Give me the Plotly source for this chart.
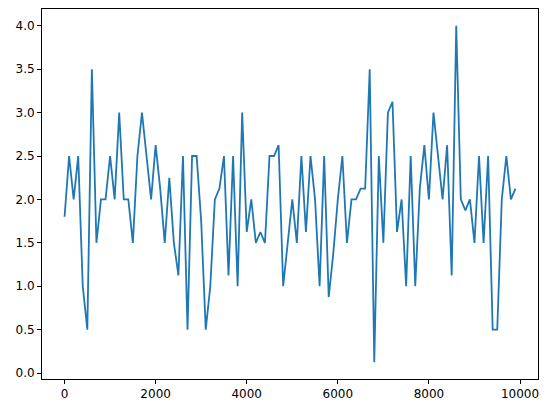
import plotly.graph_objects as go

x_values = list(range(0, 10000, 100))
y_values = [
    1.8, 2.5, 2.0, 2.5, 1.0, 0.5, 3.5, 1.5, 2.0, 2.0,
    2.5, 2.0, 3.0, 2.0, 2.0, 1.5, 2.5, 3.0, 2.5, 2.0,
    2.625, 2.125, 1.5, 2.25, 1.5, 1.125, 2.5, 0.5, 2.5, 2.5,
    1.75, 0.5, 1.0, 2.0, 2.125, 2.5, 1.125, 2.5, 1.0, 3.0,
    1.625, 2.0, 1.5, 1.625, 1.5, 2.5, 2.5, 2.625, 1.0, 1.5,
    2.0, 1.5, 2.5, 1.625, 2.5, 2.0, 1.0, 2.5, 0.875, 1.375,
    2.0, 2.5, 1.5, 2.0, 2.0, 2.125, 2.125, 3.5, 0.125, 2.5,
    1.5, 3.0, 3.125, 1.625, 2.0, 1.0, 2.5, 1.0, 2.125, 2.625,
    2.0, 3.0, 2.5, 2.0, 2.625, 1.125, 4.0, 2.0, 1.875, 2.0,
    1.5, 2.5, 1.5, 2.5, 0.5, 0.5, 2.0, 2.5, 2.0, 2.125,
]
x_ticks = [0, 2000, 4000, 6000, 8000, 10000]
y_ticks = [0.0, 0.5, 1.0, 1.5, 2.0, 2.5, 3.0, 3.5, 4.0]

fig = go.Figure()
fig.add_trace(go.Scatter(
    x=x_values, y=y_values, mode="lines",
    line=dict(color="#1f77b4", width=1.8),
    showlegend=False,
))

xmin, xmax = min(x_values), max(x_values)
ymin, ymax = min(y_values), max(y_values)
xm = 0.05 * (xmax - xmin)
ym = 0.05 * (ymax - ymin)

axis_style = dict(
    showgrid=False, zeroline=False, showline=True, mirror=True,
    linecolor="black", linewidth=1, ticks="outside", ticklen=4,
    tickwidth=1, tickcolor="black",
    tickfont=dict(family="DejaVu Sans", size=12, color="black"),
)

# page body has an 8px default margin, so the figure is sized to fit the window
fig.update_layout(
    width=543, height=405,
    margin=dict(l=34, r=12.5, t=1, b=34),
    paper_bgcolor="white", plot_bgcolor="white",
    xaxis=dict(range=[xmin - xm, xmax + xm], tickvals=x_ticks,
               ticktext=[str(v) for v in x_ticks], automargin=False,
               **axis_style),
    yaxis=dict(range=[ymin - ym, ymax + ym], tickvals=y_ticks,
               ticktext=[f"{v:.1f}" for v in y_ticks], automargin=False,
               **axis_style),
)

fig.write_html("out.html")
